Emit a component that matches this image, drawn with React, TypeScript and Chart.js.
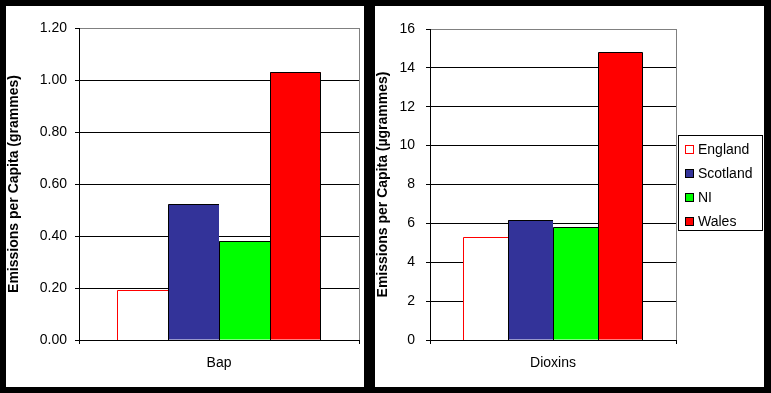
import React, { useEffect, useRef } from 'react';
import { Chart, registerables } from 'chart.js';
Chart.register(...registerables);

const regions = ['England', 'Scotland', 'NI', 'Wales'];
const bapCategories = ['Bap'];
const bapValues = [0.19, 0.52, 0.38, 1.03];
const dioxinCategories = ['Dioxins'];
const dioxinValues = [5.28, 6.16, 5.79, 14.78];
const fillColors = ['#FFFFFF', '#333399', '#00FF00', '#FF0000'];
const edgeColors = ['#FF0000', '#000000', '#000000', '#000000'];
const bapAxis = { max: 1.2, step: 0.2, decimals: 2, title: 'Emissions per Capita (grammes)' };
const dioxinAxis = { max: 16, step: 2, decimals: 0, title: 'Emissions per Capita (µgrammes)' };

const FONT = '"Liberation Sans", Arial, sans-serif';

const crispEdges = {
  id: 'crispEdges',
  afterDatasetsDraw(chart: any) {
    const ctx = chart.ctx;
    const n = chart.data.datasets.length;
    ctx.save();
    ctx.lineWidth = 1;
    chart.data.datasets.forEach((ds: any, i: number) => {
      const meta = chart.getDatasetMeta(i);
      meta.data.forEach((bar: any) => {
        const p = bar.getProps(['x', 'y', 'base', 'width'], true);
        const l = Math.round(p.x - p.width / 2);
        const r = Math.round(p.x + p.width / 2);
        const t = Math.floor(p.y);
        const b = Math.round(p.base);
        ctx.strokeStyle = ds.borderColor;
        ctx.beginPath();
        ctx.moveTo(l + 0.5, b);
        ctx.lineTo(l + 0.5, t + 0.5);
        if (i === n - 1) {
          ctx.lineTo(r - 0.5, t + 0.5);
          ctx.lineTo(r - 0.5, b);
        } else {
          ctx.lineTo(r, t + 0.5);
        }
        ctx.stroke();
      });
    });
    ctx.restore();
  },
};

const boxLegend = {
  id: 'boxLegend',
  afterDraw(chart: any) {
    const opts = chart.options.plugins.boxLegend;
    if (!opts || !opts.show) return;
    const ctx = chart.ctx;
    const x = opts.left;
    const y = opts.top;
    const w = opts.width;
    const h = opts.height;
    ctx.save();
    ctx.fillStyle = '#FFFFFF';
    ctx.fillRect(x, y, w, h);
    ctx.strokeStyle = '#000000';
    ctx.lineWidth = 1;
    ctx.strokeRect(x + 0.5, y + 0.5, w - 1, h - 1);
    ctx.font = '14px ' + FONT;
    ctx.textBaseline = 'alphabetic';
    ctx.textAlign = 'left';
    chart.data.datasets.forEach((ds: any, i: number) => {
      const sy = y + 10 + i * 24;
      ctx.fillStyle = ds.backgroundColor;
      ctx.fillRect(x + 7, sy, 9, 9);
      ctx.strokeStyle = ds.borderColor;
      ctx.strokeRect(x + 7.5, sy + 0.5, 8, 8);
      ctx.fillStyle = '#000000';
      ctx.fillText(ds.label, x + 20, sy + 9);
    });
    ctx.restore();
  },
};

function makeConfig(categories: string[], values: number[], axis: any, opt: any) {
  const datasets = regions.map((r, i) => ({
    label: r,
    data: [values[i]],
    backgroundColor: fillColors[i],
    borderColor: edgeColors[i],
    borderWidth: 0,
    categoryPercentage: opt.catPct,
    barPercentage: 1,
  }));
  return {
    type: 'bar',
    data: { labels: categories, datasets },
    options: {
      responsive: false,
      animation: false,
      events: [],
      layout: { padding: { top: opt.padTop, right: opt.padRight, left: 0, bottom: 0 } },
      plugins: {
        legend: { display: false },
        tooltip: { enabled: false },
        boxLegend: opt.legend,
      },
      scales: {
        x: {
          type: 'category',
          offset: true,
          afterFit: (s: any) => { s.height = opt.xHeight; },
          grid: {
            offset: true,
            drawOnChartArea: true,
            color: (c: any) => (c.index === 0 ? '#000000' : '#808080'),
            tickColor: '#000000',
            tickLength: 4,
            lineWidth: 1,
          },
          border: { color: '#000000', width: 1 },
          ticks: { color: '#000000', font: { family: FONT, size: 14 }, padding: opt.xPad },
        },
        y: {
          min: 0,
          max: axis.max,
          afterFit: (s: any) => { s.width = opt.yWidth; },
          grid: {
            color: (c: any) => (c.tick && Math.abs(c.tick.value - axis.max) < 1e-9 ? '#808080' : '#000000'),
            tickColor: '#000000',
            tickLength: 4,
            lineWidth: 1,
          },
          border: { color: '#000000', width: 1 },
          ticks: {
            stepSize: axis.step,
            color: '#000000',
            padding: opt.yPad,
            font: { family: FONT, size: 14 },
            callback: (v: any) => Number(v).toFixed(axis.decimals),
          },
          title: {
            display: true,
            text: axis.title,
            color: '#000000',
            font: { family: FONT, size: 14, weight: 'bold' },
            padding: { top: 0, bottom: 0 },
          },
        },
      },
    },
    plugins: [crispEdges, boxLegend],
  };
}

function ChartCanvas(props: { width: number; height: number; config: any; left: number; top: number }) {
  const ref = useRef<HTMLCanvasElement | null>(null);
  useEffect(() => {
    if (!ref.current) return;
    const chart = new Chart(ref.current, props.config);
    return () => chart.destroy();
  }, []);
  return (
    <div style={{ position: 'absolute', left: props.left, top: props.top, width: props.width, height: props.height, background: '#FFFFFF' }}>
      <canvas ref={ref} width={props.width} height={props.height} style={{ display: 'block', width: props.width, height: props.height }} />
    </div>
  );
}

export default function App() {
  const leftCfg = makeConfig(bapCategories, bapValues, bapAxis, {
    padTop: 22, padRight: 5, xHeight: 47, yWidth: 73, yPad: 8, xPad: 11, catPct: 204 / 280, legend: { show: false },
  });
  const rightCfg = makeConfig(dioxinCategories, dioxinValues, dioxinAxis, {
    padTop: 23, padRight: 88, xHeight: 47, yWidth: 55, yPad: 11, xPad: 11, catPct: 180 / 246,
    legend: { show: true, left: 303, top: 129, width: 85, height: 96 },
  });
  return (
    <div style={{ position: 'absolute', left: 0, top: 0, width: 771, height: 393, background: '#000000', overflow: 'hidden' }}>
      <ChartCanvas left={6} top={6} width={358} height={381} config={leftCfg} />
      <ChartCanvas left={375} top={6} width={389} height={381} config={rightCfg} />
    </div>
  );
}
